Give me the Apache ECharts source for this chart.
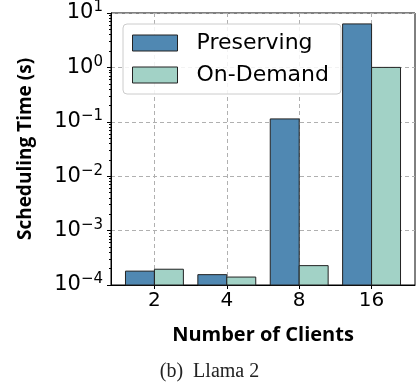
<!DOCTYPE html>
<html><head><meta charset="utf-8">
<script src="https://cdn.jsdelivr.net/npm/echarts@6/dist/echarts.min.js"></script>
<style>html,body{margin:0;padding:0;background:#fff}#c{width:419px;height:383px}</style>
</head><body><div id="c"></div>
<script>
const categories = ['2', '4', '8', '16'];
const categoryPos = [0, 1, 2, 3];
const preserving = [1.8e-4, 1.55e-4, 0.113, 6.3];
const onDemand = [1.95e-4, 1.4e-4, 2.27e-4, 1.0];
const yMajorTicks = [1e-4, 1e-3, 1e-2, 1e-1, 1, 10];
const yMinorTicks = [];
for (let e = -4; e < 1; e++) for (let m = 2; m <= 9; m++) yMinorTicks.push(+(m * Math.pow(10, e)).toPrecision(3));
const yMin = 1e-4, yMax = 10;
const barW = 0.4;

const chart = echarts.init(document.getElementById('c'), null, {renderer: 'canvas'});
const font = 'DejaVu Sans';
const sup = v => {
  const e = Math.round(Math.log10(v));
  return '{b|10}{s|' + String(e).replace('-', '\u2212') + '}';
};
function barRenderer(offset) {
  return function (params, api) {
    const x = api.value(0), v = api.value(1);
    const p0 = api.coord([x + offset, yMin]);
    const p1 = api.coord([x + offset + barW, v]);
    return {
      type: 'rect',
      shape: {x: p0[0], y: p1[1], width: p1[0] - p0[0], height: p0[1] - p1[1]},
      style: api.style({stroke: '#222', lineWidth: 1})
    };
  };
}
chart.setOption({
  animation: false,
  backgroundColor: '#fff',
  grid: {left: 111, top: 12, right: 4, bottom: 98, show: true, borderColor: '#000', borderWidth: 1, backgroundColor: 'transparent'},
  legend: {
    left: 123, top: 24, orient: 'vertical', icon: 'rect',
    itemWidth: 45, itemHeight: 16, itemGap: 10,
    padding: [8, 12, 8, 9],
    borderColor: '#cccccc', borderWidth: 1, borderRadius: 4,
    backgroundColor: 'rgba(255,255,255,0.85)',
    itemStyle: {borderColor: '#222', borderWidth: 1},
    textStyle: {fontFamily: font, fontSize: 22, color: '#000', padding: [0, 0, 0, 14]},
    data: ['Preserving', 'On-Demand']
  },
  title: {
    text: '(b)  Llama 2', left: 'center', top: 357,
    textStyle: {fontFamily: 'Liberation Serif', fontSize: 20, fontWeight: 'normal', color: '#222'}
  },
  xAxis: {
    type: 'value', min: -0.6, max: 3.6,
    name: 'Number of Clients', nameLocation: 'middle', nameGap: 40,
    nameTextStyle: {fontFamily: 'Open Sans', fontWeight: 'bold', fontSize: 20, color: '#000'},
    axisLine: {onZero: false, lineStyle: {color: '#000', width: 1}},
    axisTick: {show: true, length: 4, customValues: categoryPos, lineStyle: {color: '#000'}},
    axisLabel: {customValues: categoryPos, formatter: v => categories[Math.round(v)], fontFamily: font, fontSize: 20, color: '#000', margin: 6},
    splitLine: {show: true, lineStyle: {type: [4, 3], color: '#b0b0b0', width: 1}}
  },
  yAxis: [{
    type: 'log', logBase: 10, min: yMin, max: yMax,
    name: 'Scheduling Time (s)', nameLocation: 'middle', nameGap: 76, nameRotate: 90,
    nameTextStyle: {fontFamily: 'Open Sans', fontWeight: 'bold', fontSize: 19, color: '#000'},
    axisLine: {show: true, onZero: false, lineStyle: {color: '#000', width: 1}},
    axisTick: {show: true, length: 4, customValues: yMajorTicks, lineStyle: {color: '#000'}},
    axisLabel: {customValues: yMajorTicks, formatter: sup, margin: 8,
      rich: {b: {fontFamily: font, fontSize: 21, color: '#000'}, s: {fontFamily: font, fontSize: 15, color: '#000', padding: [0, 0, 11, 0]}}},
    splitLine: {show: true, lineStyle: {type: [4, 3], color: '#b0b0b0', width: 1}}
  }, {
    type: 'log', logBase: 10, min: yMin, max: yMax, position: 'left',
    axisLine: {show: false, onZero: false},
    axisTick: {show: true, length: 2, customValues: yMinorTicks, lineStyle: {color: '#000'}},
    axisLabel: {show: false},
    splitLine: {show: false}
  }],
  series: [{
    name: 'Preserving', type: 'custom', renderItem: barRenderer(-barW),
    itemStyle: {color: '#5088b2', borderColor: '#222', borderWidth: 1},
    encode: {x: 0, y: 1},
    data: categoryPos.map((x, i) => [x, preserving[i]])
  }, {
    name: 'On-Demand', type: 'custom', renderItem: barRenderer(0),
    itemStyle: {color: '#a2d2c6', borderColor: '#222', borderWidth: 1},
    encode: {x: 0, y: 1},
    data: categoryPos.map((x, i) => [x, onDemand[i]])
  }]
});
</script></body></html>
